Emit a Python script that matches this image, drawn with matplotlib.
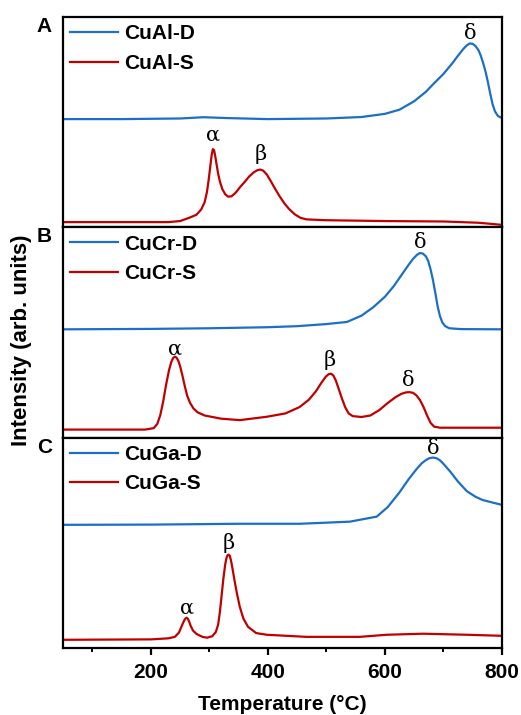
import numpy as np
import matplotlib
matplotlib.use("Agg")
import matplotlib.pyplot as plt
from matplotlib.ticker import MultipleLocator

plt.rcParams['font.family'] = ['Liberation Sans', 'DejaVu Sans']
plt.rcParams['font.weight'] = 'bold'

# panel A : CuAl
a_d_t = [50, 150, 250, 290, 330, 400, 500, 560, 600, 625, 650, 670, 682, 700, 715, 723, 730, 735, 740, 745, 750, 755, 760, 764, 768, 772, 776, 780, 784, 788, 793, 800]
a_d_y = [0.515, 0.515, 0.518, 0.524, 0.52, 0.515, 0.518, 0.525, 0.54, 0.56, 0.60, 0.645, 0.68, 0.73, 0.78, 0.81, 0.835, 0.852, 0.866, 0.875, 0.873, 0.862, 0.842, 0.815, 0.78, 0.74, 0.69, 0.635, 0.585, 0.552, 0.53, 0.52]
a_s_t = [50, 150, 230, 250, 265, 278, 286, 292, 296, 299, 302, 304, 306, 308, 310, 312, 315, 318, 322, 327, 332, 338, 345, 352, 360, 368, 376, 382, 387, 392, 398, 405, 412, 420, 428, 436, 446, 456, 466, 500, 600, 700, 760, 800]
a_s_y = [0.025, 0.025, 0.025, 0.03, 0.045, 0.06, 0.085, 0.12, 0.17, 0.23, 0.3, 0.345, 0.372, 0.368, 0.34, 0.305, 0.255, 0.218, 0.183, 0.158, 0.146, 0.148, 0.165, 0.19, 0.215, 0.242, 0.262, 0.272, 0.275, 0.27, 0.252, 0.22, 0.185, 0.148, 0.115, 0.088, 0.062, 0.045, 0.038, 0.034, 0.03, 0.028, 0.022, 0.012]

# panel B : CuCr
b_d_t = [50, 200, 300, 400, 450, 500, 535, 560, 580, 600, 615, 630, 640, 648, 655, 660, 665, 670, 674, 678, 682, 686, 690, 694, 698, 703, 710, 730, 800]
b_d_y = [0.515, 0.517, 0.52, 0.525, 0.53, 0.54, 0.55, 0.58, 0.62, 0.67, 0.72, 0.78, 0.82, 0.85, 0.87, 0.878, 0.875, 0.862, 0.84, 0.80, 0.75, 0.69, 0.625, 0.578, 0.548, 0.53, 0.52, 0.516, 0.515]
b_s_t = [50, 190, 205, 211, 216, 221, 226, 231, 235, 238, 241, 244, 247, 250, 254, 258, 262, 267, 273, 280, 292, 320, 352, 398, 430, 454, 470, 482, 492, 499, 504, 508, 512, 516, 520, 526, 532, 538, 545, 560, 575, 590, 605, 618, 628, 636, 642, 648, 654, 660, 666, 672, 678, 684, 694, 800]
b_s_y = [0.038, 0.038, 0.045, 0.065, 0.105, 0.17, 0.25, 0.32, 0.36, 0.378, 0.385, 0.38, 0.365, 0.34, 0.295, 0.245, 0.2, 0.165, 0.138, 0.12, 0.105, 0.09, 0.083, 0.099, 0.115, 0.145, 0.18, 0.22, 0.263, 0.29, 0.302, 0.304, 0.295, 0.272, 0.24, 0.19, 0.145, 0.115, 0.102, 0.098, 0.105, 0.13, 0.165, 0.192, 0.208, 0.215, 0.216, 0.213, 0.2, 0.178, 0.145, 0.105, 0.07, 0.052, 0.047, 0.047]

# panel C : CuGa
c_d_t = [50, 200, 350, 455, 540, 586, 605, 625, 640, 654, 663, 670, 676, 682, 688, 694, 700, 711, 725, 740, 755, 767, 785, 800]
c_d_y = [0.585, 0.586, 0.59, 0.59, 0.60, 0.624, 0.67, 0.74, 0.80, 0.85, 0.878, 0.893, 0.902, 0.905, 0.902, 0.892, 0.875, 0.84, 0.79, 0.745, 0.718, 0.703, 0.69, 0.68]
c_s_t = [50, 200, 230, 241, 248, 253, 257, 259, 261, 263, 265, 268, 272, 278, 288, 296, 305, 311, 315, 318, 321, 324, 327, 329, 331, 333, 335, 337, 340, 343, 347, 352, 358, 366, 380, 398, 466, 557, 603, 665, 740, 800]
c_s_y = [0.038, 0.04, 0.045, 0.052, 0.072, 0.105, 0.13, 0.139, 0.143, 0.139, 0.128, 0.105, 0.082, 0.066, 0.052, 0.048, 0.055, 0.075, 0.11, 0.17, 0.25, 0.33, 0.395, 0.425, 0.44, 0.443, 0.437, 0.415, 0.37, 0.32, 0.26, 0.195, 0.14, 0.1, 0.07, 0.062, 0.052, 0.052, 0.062, 0.067, 0.062, 0.057]

panels = [
    ('A', 'CuAl', a_d_t, a_d_y, a_s_t, a_s_y,
     [('α', 306, 0.44), ('β', 387, 0.35), ('δ', 745, 0.92)]),
    ('B', 'CuCr', b_d_t, b_d_y, b_s_t, b_s_y,
     [('α', 241, 0.42), ('β', 506, 0.37), ('δ', 640, 0.27), ('δ', 660, 0.93)]),
    ('C', 'CuGa', c_d_t, c_d_y, c_s_t, c_s_y,
     [('α', 261, 0.19), ('β', 333, 0.50), ('δ', 682, 0.95)]),
]

blue = '#1b6fc6'
red = '#c00000'

fig, axes = plt.subplots(3, 1, figsize=(5.21, 7.15), dpi=100, sharex=True)
fig.subplots_adjust(left=0.121, right=0.9635, top=0.976, bottom=0.094, hspace=0)

for ax, (letter, name, dt, dy, st, sy, marks) in zip(axes, panels):
    ax.plot(dt, dy, color=blue, lw=1.6, label=name + '-D')
    ax.plot(st, sy, color=red, lw=1.6, label=name + '-S')
    ax.set_ylim(0, 1)
    ax.set_xlim(50, 800)
    ax.set_yticks([])
    for s in ax.spines.values():
        s.set_linewidth(1.6)
    leg = ax.legend(loc='upper left', frameon=False, fontsize=15,
                    handlelength=2.3, handletextpad=0.3, labelspacing=0.5,
                    borderaxespad=0.1, borderpad=0.25)
    for txt in leg.get_texts():
        txt.set_fontweight('bold')
    for sym, x, y in marks:
        ax.text(x, y, sym, ha='center', va='center', fontsize=15,
                family='DejaVu Serif', fontweight='normal')
    ax.text(-0.025, 0.955, letter, transform=ax.transAxes, ha='right',
            va='center', fontsize=15, fontweight='bold')
    ax.tick_params(axis='x', which='both', bottom=False, labelbottom=False)

ax = axes[-1]
ax.xaxis.set_major_locator(MultipleLocator(200))
ax.xaxis.set_minor_locator(MultipleLocator(100))
ax.tick_params(axis='x', which='both', bottom=True, labelbottom=True)
ax.tick_params(axis='x', which='major', length=5, width=1.6, labelsize=15, pad=6)
ax.tick_params(axis='x', which='minor', length=3, width=1.4)
for lab in ax.get_xticklabels():
    lab.set_fontweight('bold')
ax.set_xlabel('Temperature (°C)', fontsize=15, fontweight='bold', labelpad=9)
fig.text(0.042, 0.524, 'Intensity (arb. units)', rotation=90, ha='center',
         va='center', fontsize=16, fontweight='bold')

fig.savefig('out.png', dpi=100)
